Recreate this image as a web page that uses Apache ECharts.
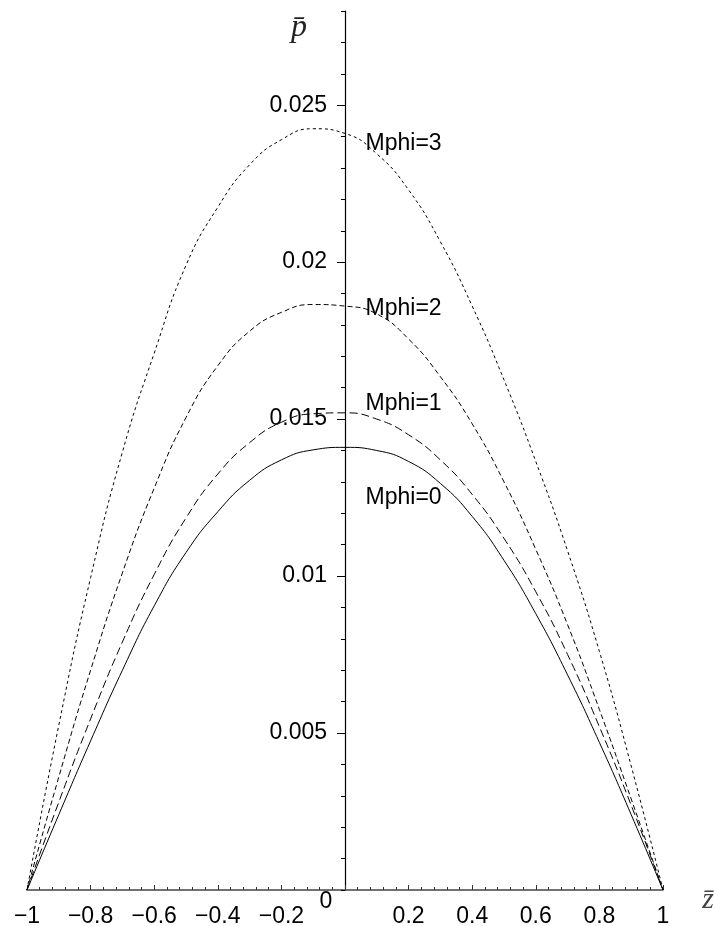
<!DOCTYPE html>
<html>
<head>
<meta charset="utf-8">
<script src="https://cdn.jsdelivr.net/npm/echarts@6/dist/echarts.min.js"></script>
<style>
  html, body { margin: 0; padding: 0; background: #fff; }
  #chart { width: 715px; height: 926px; }
</style>
</head>
<body>
<div id="chart"></div>
<script>
// ---- data ----
const zValues = [-1, -0.9, -0.8, -0.7, -0.6, -0.5, -0.4, -0.3, -0.2, -0.1, 0,
                 0.1, 0.2, 0.3, 0.4, 0.5, 0.6, 0.7, 0.8, 0.9, 1];
const pMphi0 = [0, 0.0024, 0.00475, 0.0070, 0.00905, 0.01075, 0.01205, 0.01305, 0.0137, 0.01402, 0.0141,
                0.0140, 0.01365, 0.01295, 0.0119, 0.0105, 0.0088, 0.00685, 0.0047, 0.0024, 0];
const pMphi1 = [0, 0.0028, 0.00545, 0.0079, 0.01005, 0.01185, 0.01325, 0.01425, 0.0149, 0.01517, 0.0152,
                0.0150, 0.0145, 0.0137, 0.0126, 0.0112, 0.0095, 0.0075, 0.0052, 0.0027, 0];
const pMphi2 = [0, 0.0036, 0.0070, 0.0101, 0.0128, 0.01505, 0.0167, 0.0178, 0.0184, 0.01865, 0.0186,
                0.01835, 0.01755, 0.01635, 0.01485, 0.0130, 0.01085, 0.00845, 0.00575, 0.0029, 0];
const pMphi3 = [0, 0.00525, 0.00995, 0.01395, 0.0171, 0.0199, 0.02175, 0.0231, 0.0239, 0.02425, 0.0241,
                0.02345, 0.0223, 0.02065, 0.0186, 0.01625, 0.01365, 0.0108, 0.0076, 0.00395, 0];
const seriesNames = ['Mphi=0', 'Mphi=1', 'Mphi=2', 'Mphi=3'];
const labelZ = [0.063, 0.063, 0.063, 0.063];
const labelP = [0.01251, 0.0155, 0.01852, 0.02377];
const xTickLabels = [-1, -0.8, -0.6, -0.4, -0.2, 0.2, 0.4, 0.6, 0.8, 1];
const yTickLabels = [0.005, 0.01, 0.015, 0.02, 0.025];
const xMin = -1, xMax = 1, yMin = 0, yMax = 0.028;

const FONT = 'Liberation Sans, Arial, Helvetica, sans-serif';
const SERIF = 'Liberation Serif, DejaVu Serif, serif';
const W = 715;
const GRID = { left: 27, right: 52, top: 11, bottom: 36 };
// the vertical axis crosses the horizontal one at z = 0
const yAxisOffset = -((W - GRID.left - GRID.right) * (0 - xMin) / (xMax - xMin));

const chart = echarts.init(document.getElementById('chart'), null, { renderer: 'canvas' });

function pairs(xs, ys) { return xs.map((x, i) => [x, ys[i]]); }
const dashes = ['solid', [8, 4], [5, 3], [3, 3]];
const allP = [pMphi0, pMphi1, pMphi2, pMphi3];

const lineSeries = allP.map((ys, i) => ({
  name: seriesNames[i],
  type: 'line',
  data: pairs(zValues, ys),
  showSymbol: false,
  smooth: 0.5,
  xAxisIndex: 0,
  yAxisIndex: 0,
  lineStyle: { color: '#000', width: 1, type: dashes[i] },
  z: 3
}));

const labelSeries = {
  type: 'scatter',
  data: labelZ.map((x, i) => ({ value: [x, labelP[i]], name: seriesNames[i] })),
  symbolSize: 1,
  itemStyle: { color: 'rgba(0,0,0,0)' },
  label: {
    show: true, position: 'right', distance: 0, opacity: 1,
    formatter: p => p.name,
    fontFamily: FONT, fontSize: 23, color: '#000', textBorderWidth: 0
  },
  emphasis: { disabled: true },
  silent: true,
  z: 4
};

function fmtNum(v) { return String(+Math.abs(v).toFixed(3)); }

const option = {
  animation: false,
  backgroundColor: '#fff',
  grid: { left: GRID.left, right: GRID.right, top: GRID.top, bottom: GRID.bottom, containLabel: false, outerBoundsMode: 'none' },
  xAxis: {
    type: 'value', min: xMin, max: xMax, interval: 0.2, position: 'bottom',
    axisLine: { show: true, onZero: false, lineStyle: { color: '#444', width: 1.5 } },
    axisTick: { show: true, inside: true, length: 5, lineStyle: { color: '#333' } },
    minorTick: { show: true, splitNumber: 5, length: 3, lineStyle: { color: '#333' } },
    axisLabel: {
      show: true, margin: 15, fontFamily: FONT, fontSize: 23, color: '#000',
      customValues: xTickLabels,
      formatter: v => (v < 0 ? '\u2212' + fmtNum(v) : fmtNum(v))
    },
    splitLine: { show: false }
  },
  yAxis: [{
    type: 'value', min: yMin, max: yMax, interval: 0.001, position: 'left', offset: yAxisOffset,
    axisLine: { show: true, onZero: false, lineStyle: { color: '#000', width: 1.2 } },
    axisTick: { show: true, inside: false, length: 4, lineStyle: { color: '#000' } },
    axisLabel: {
      show: true, margin: 18, fontFamily: FONT, fontSize: 23, color: '#000',
      customValues: yTickLabels,
      formatter: v => fmtNum(v)
    },
    splitLine: { show: false }
  }, {
    type: 'value', min: yMin, max: yMax, interval: 0.001, position: 'left', offset: yAxisOffset,
    axisLine: { show: false, onZero: false },
    axisTick: { show: true, inside: false, length: 8, customValues: yTickLabels, lineStyle: { color: '#000' } },
    axisLabel: { show: false },
    splitLine: { show: false }
  }],
  series: lineSeries.concat([labelSeries])
};
chart.setOption(option);

// "0" tick label (left of the vertical axis, slightly raised) and the axis titles
const originPx = chart.convertToPixel({ gridIndex: 0 }, [0, yMin]);
const axisTopPx = chart.convertToPixel({ gridIndex: 0 }, [0, yMax]);
const axisRightPx = chart.convertToPixel({ gridIndex: 0 }, [xMax, yMin]);
chart.setOption({
  graphic: [{
    type: 'text',
    x: originPx[0] - 19, y: originPx[1] + 12,
    style: { text: '0', fontFamily: FONT, fontSize: 23, fill: '#000', align: 'center', verticalAlign: 'middle' }
  }, {
    type: 'text',
    x: axisTopPx[0] - 46, y: axisTopPx[1] + 17,
    style: { text: 'p\u0304', fontFamily: SERIF, fontStyle: 'italic', fontSize: 32, fill: '#222', align: 'center', verticalAlign: 'middle' }
  }, {
    type: 'text',
    x: axisRightPx[0] + 45, y: axisRightPx[1] + 10,
    style: { text: 'z\u0304', fontFamily: SERIF, fontStyle: 'italic', fontSize: 30, fill: '#444', align: 'center', verticalAlign: 'middle' }
  }]
});
</script>
</body>
</html>
